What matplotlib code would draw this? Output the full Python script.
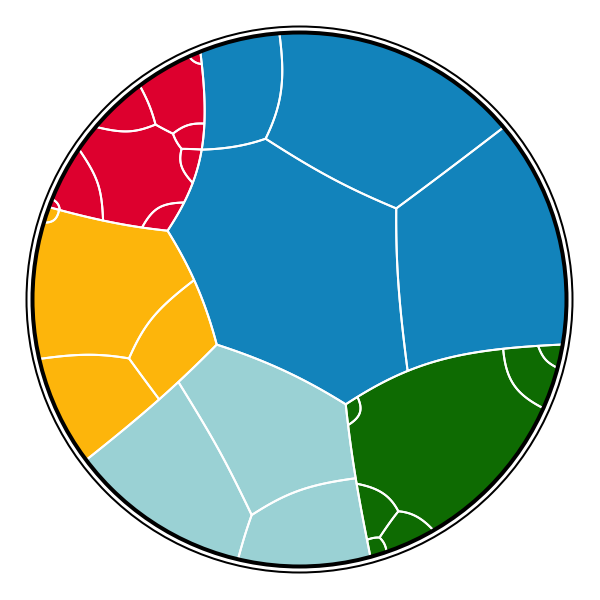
import numpy as np
import matplotlib
matplotlib.use("Agg")
import matplotlib.pyplot as plt
from matplotlib.patches import Circle

# top level groups
group_names = ["A", "B", "C", "D", "E"]
group_colors = ["#1283BB", "#DD002E", "#FDB50B", "#9AD1D4", "#0E6B02"]
# layout seeds of the groups (pixel space, y down)
group_seed_x = [362.0, 141.5, 113.1, 243.8, 442.7]
group_seed_y = [215.8, 153.1, 322.6, 465.3, 437.1]

# leaves: group index, value, layout seed
leaf_names = ["A1", "A2", "A3", "A4",
              "B1", "B2", "B3", "B4", "B5", "B6", "B7", "B8", "B9",
              "C1", "C2", "C3", "C4",
              "D1", "D2", "D3",
              "E1", "E2", "E3", "E4", "E5", "E6", "E7"]
leaf_group = [0, 0, 0, 0,
              1, 1, 1, 1, 1, 1, 1, 1, 1,
              2, 2, 2, 2,
              3, 3, 3,
              4, 4, 4, 4, 4, 4, 4]
leaf_values = [42.77, 7.81, 25.94, 30.06,
               7.81, 0.085, 3.39, 1.47, 0.63, 0.49, 0.66, 2.10, 0.062,
               17.50, 5.61, 7.60, 0.135,
               15.01, 17.53, 8.47,
               22.43, 0.27, 1.38, 1.17, 0.255, 2.12, 0.34]
leaf_seed_x = [294.5, 241.9, 372.9, 479.9,
               135.8, 198.1, 177.8, 130.0, 190.9, 190.1, 163.7, 79.3, 54.1,
               101.3, 174.0, 96.4, 50.9,
               176.9, 269.7, 308.9,
               440.7, 353.9, 376.2, 405.0, 377.5, 529.7, 551.5]
leaf_seed_y = [268.2, 91.0, 116.4, 259.5,
               171.8, 56.9, 95.1, 113.9, 135.7, 161.3, 217.2, 190.2, 206.4,
               285.5, 340.3, 396.9, 216.5,
               476.3, 425.7, 528.0,
               434.2, 410.4, 508.9, 530.1, 546.2, 374.1, 354.3]

cx, cy, R = 299.5, 299.5, 266.5


def fit_weights(sx, sy, target, px, py, n_iter=300):
    # additively weighted voronoi: adjust weights until cell areas match
    d = np.hypot(px[None, :] - sx[:, None], py[None, :] - sy[:, None])
    target = target / target.sum() * len(px)
    w = np.zeros(len(sx))
    for _ in range(n_iter):
        lab = np.argmin(d - w[:, None], axis=0)
        area = np.bincount(lab, minlength=len(sx))
        w = w + 0.5 * (np.sqrt(target) - np.sqrt(area)) / np.sqrt(np.pi)
        w = w - w.mean()
    return w, lab


def others_min(D):
    # D[i] - min over j != i of D[j]
    order = np.argsort(D, axis=0)
    m1 = np.take_along_axis(D, order[:1], axis=0)[0]
    m2 = np.take_along_axis(D, order[1:2], axis=0)[0]
    out = np.empty_like(D)
    for i in range(D.shape[0]):
        out[i] = D[i] - np.where(order[0] == i, m2, m1)
    return out


leaf_group = np.array(leaf_group)
leaf_values = np.array(leaf_values)
lsx, lsy = np.array(leaf_seed_x), np.array(leaf_seed_y)
gsx, gsy = np.array(group_seed_x), np.array(group_seed_y)
group_values = np.array([leaf_values[leaf_group == g].sum() for g in range(len(group_names))])

# coarse grid for fitting
g1 = np.arange(0, 600) + 0.5
X1, Y1 = np.meshgrid(g1, g1)
ins = (X1 - cx) ** 2 + (Y1 - cy) ** 2 <= R ** 2
px, py = X1[ins], Y1[ins]
gw, glab = fit_weights(gsx, gsy, group_values, px, py)
leaf_w = np.zeros(len(leaf_names))
for g in range(len(group_names)):
    idx = np.where(leaf_group == g)[0]
    m = glab == g
    w, _ = fit_weights(lsx[idx], lsy[idx], leaf_values[idx], px[m], py[m])
    leaf_w[idx] = w

# fine grid for drawing
step = 0.6
g2 = np.arange(0, 600, step) + step / 2
X, Y = np.meshgrid(g2, g2)
GD = np.stack([np.hypot(X - gsx[g], Y - gsy[g]) - gw[g] for g in range(len(group_names))])
GF = others_min(GD)
del GD

fig = plt.figure(figsize=(6, 6), dpi=100)
ax = fig.add_axes([0, 0, 1, 1])
ax.set_xlim(0, 600)
ax.set_ylim(600, 0)
ax.set_aspect("equal")
ax.axis("off")

clip = Circle((cx, cy), R, facecolor="none", edgecolor="none")
ax.add_patch(clip)
ax.add_patch(Circle((cx, cy), R, facecolor="white", edgecolor="none", zorder=0))

for g in range(len(group_names)):
    cs = ax.contourf(X, Y, GF[g], levels=[GF[g].min() - 1, 0], colors=[group_colors[g]], zorder=1)
    cs.set_clip_path(clip)

for g in range(len(group_names)):
    idx = np.where(leaf_group == g)[0]
    LD = np.stack([np.hypot(X - lsx[i], Y - lsy[i]) - leaf_w[i] for i in idx])
    LF = others_min(LD)
    for k in range(len(idx)):
        E = np.maximum(LF[k], GF[g])
        cs = ax.contour(X, Y, E, levels=[0], colors="white", linewidths=1.45, zorder=2)
        cs.set_clip_path(clip)
    del LD, LF

ax.add_patch(Circle((cx, cy), 269.5, fill=False, edgecolor="black", linewidth=9 * 0.72, zorder=3))
ax.add_patch(Circle((cx, cy), 270.5, fill=False, edgecolor="white", linewidth=3 * 0.72, zorder=4))

fig.savefig("out.png")
